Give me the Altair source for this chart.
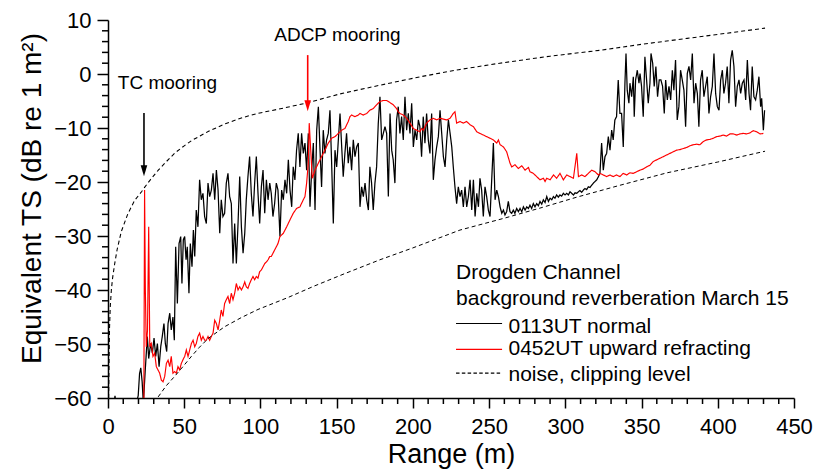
import altair as alt
import pandas as pd

# ---------------- data ----------------
black_x = [3.5, 4.6, 5.6, 18.5, 19.8, 20.7, 21.5, 22.4, 23.2, 24.4,
           25.8, 26.7, 28.0, 29.1, 30.2, 31.3, 32.4, 33.5, 34.6, 35.6, 36.7, 37.6, 38.5, 39.4, 40.5,
           41.5, 42.6, 43.5, 44.4, 45.5, 46.6, 47.7, 48.5, 49.4, 50.3, 51.2, 52.0, 53.1, 54.0, 55.1,
           56.0, 56.9, 57.9, 59.0, 60.1, 61.2, 62.3, 63.4, 64.5, 65.6, 66.7, 67.8, 68.9, 70.0, 71.1,
           72.2, 73.3, 74.3, 75.4, 76.5, 77.6, 78.7, 79.8, 80.9, 82.0, 83.1, 84.2, 85.3, 86.4, 87.5,
           88.6, 89.7, 90.7, 91.8, 92.9, 94.0, 95.1, 96.2, 97.3, 98.4, 99.5, 100.6, 101.7, 102.8,
           103.9, 105.0, 106.1, 107.1, 108.2, 109.3, 110.4, 111.5,
           112.8, 113.9, 115.0, 116.1, 117.2, 118.3, 119.4, 120.5, 121.5, 122.6, 123.7, 124.8, 125.9,
           127.0, 128.1, 129.2, 130.3, 131.4, 132.5, 133.6, 134.7, 135.8, 136.9, 138.0, 139.0, 140.1,
           141.2, 142.3, 143.4, 144.5, 145.6, 146.7, 147.8, 148.9, 150.0, 151.1, 152.2, 153.3, 154.3,
           155.4, 156.5, 157.6, 158.7, 159.8, 160.9, 162.0, 163.1, 164.2, 165.3, 166.4, 167.5, 168.6,
           169.7, 170.8, 171.8, 172.9, 174.0, 175.1, 176.2, 177.3, 178.4, 179.5, 180.6, 181.7, 182.8,
           183.9, 185.0, 186.1, 187.1, 188.2, 189.3, 190.4, 191.5, 192.6, 193.7, 194.8, 195.9, 197.0,
           198.1, 199.2, 200.3, 201.4, 202.5, 203.6, 204.6, 205.7, 206.8, 207.9, 209.0, 210.1, 211.2,
           212.3, 213.4, 214.5, 215.6, 216.7,
           217.8, 218.9, 220.0, 221.1, 222.2, 223.3, 224.4, 225.5, 226.5, 227.6, 228.7, 229.8, 230.9,
           232.0, 233.1, 234.2, 235.3, 236.4, 237.5, 238.6, 239.7, 240.8, 241.9, 243.0, 244.0, 245.1,
           246.2, 247.3, 248.4, 249.5, 250.6, 251.7, 252.8, 253.9, 255.0, 256.1, 257.2, 258.3, 259.4,
           260.4, 261.5, 262.6, 263.7, 264.8, 265.9, 266.9, 268.1, 269.2, 270.3, 271.4, 272.5, 273.6,
           274.7, 275.8, 276.8, 277.9, 279.0, 280.1, 281.2, 282.3, 283.4, 284.5, 285.6, 286.7, 287.8,
           288.9, 290.0, 291.1, 292.2, 293.2, 294.3, 295.4, 296.5, 297.6, 298.7, 299.8, 300.9, 302.0,
           303.1, 304.2, 305.3, 306.4, 307.5, 308.6, 309.6, 310.7, 311.8, 312.9, 314.0, 315.1, 316.2,
           317.3, 318.4, 319.5, 320.6, 321.7,
           322.7, 323.8, 324.9, 326.0, 327.1, 328.2, 329.3, 330.4, 331.4, 332.5, 333.6, 334.7, 335.8,
           336.9, 338.0, 339.1, 339.8, 340.6, 341.7, 342.4, 343.5, 344.6, 345.2, 346.1, 347.2, 348.3,
           349.0, 350.0, 351.1, 352.2, 353.3, 354.4, 355.5, 356.2, 357.3, 358.3, 359.4, 360.5, 361.6,
           362.7, 363.8, 364.9, 365.8, 366.9, 368.0, 369.1, 370.2, 371.2, 372.3, 373.4, 374.5, 375.6,
           376.7, 377.8, 378.9, 380.0, 381.1, 382.2, 383.3, 384.4, 385.5, 386.6, 387.6, 388.7, 389.8,
           390.9, 392.0, 393.1, 394.2, 395.3, 396.4, 397.5, 398.6, 399.7, 400.8, 401.9, 403.0, 404.0,
           405.1, 406.2, 407.3, 408.4, 409.5, 410.6, 411.7, 412.8, 413.9, 415.0, 416.1, 417.2, 418.3,
           419.4, 420.5, 421.5, 422.6, 423.7, 424.8, 425.9, 427.0, 428.1, 428.8, 429.9, 430.7]
black_y = [-62, -59.6, -62, -61, -59.6, -55.5, -54.4, -57.0, -61.0, -55.0,
           -48.6, -52.7, -49.9, -51.7, -48.9, -52.3, -49.9, -54.2, -50.5, -48.6, -46.2, -49.9, -51.4, -46.2, -44.3,
           -47.4, -45.0, -49.3, -32.0, -42.5, -31.4, -30.1, -38.8, -30.7, -30.1, -34.4, -32.0, -40.6, -31.4, -35.7,
           -28.9, -33.8, -25.2, -28.3, -19.6, -23.3, -22.1, -26.4, -27.7, -20.2, -22.7, -21.5, -18.4, -23.3, -17.8,
           -21.5, -29.5, -23.3, -26.4, -25.8, -20.2, -18.4, -22.7, -24.0, -35.1, -27.7, -35.1, -27.7, -19.0, -28.3,
           -33.2, -29.5, -23.3, -19.0, -15.3, -22.1, -26.4, -20.2, -15.3, -22.1, -27.7, -20.9, -17.8, -25.8,
           -19.6, -23.3, -20.2, -22.1, -26.4, -24.0, -20.2, -21.5,
           -30.1, -21.5, -23.3, -19.6, -22.1, -15.9, -21.5, -24.6, -17.2, -19.6, -14.1, -11.0, -17.2,
           -11.0, -14.7, -12.8, -17.8, -11.0, -24.6, -17.8, -12.8, -25.2, -10.4, -6.05, -13.5, -20.9,
           -10.4, -14.7, -12.2, -11.0, -6.7, -16.5, -27.7, -14.1, -17.2, -12.2, -7.3, -13.5, -19.0,
           -14.7, -11.0, -16.5, -13.5, -17.8, -12.2, -15.3, -13.5, -12.8, -24.6, -20.9, -22.7, -20.2,
           -23.3, -25.2, -17.2, -20.2, -25.2, -20.2, -17.2, -9.1, -4.2, -12.2, -11.0, -9.75, -11.0,
           -22.7, -7.3, -14.1, -15.9, -20.2, -8.5, -6.05, -11.0, -7.9, -12.2, -4.2, -10.4, -7.3,
           -11.0, -5.4, -13.5, -10.4, -12.2, -8.5, -9.75, -15.3, -7.9, -12.8, -7.3, -12.2, -14.7,
           -7.3, -19.6, -15.9, -13.5, -11.6,
           -6.7, -11.0, -15.3, -17.2, -12.2, -8.5, -11.0, -13.5, -17.2, -20.9, -24.0, -20.9, -22.7,
           -21.5, -24.6, -20.9, -24.6, -22.7, -19.6, -25.2, -19.6, -26.4, -22.1, -24.6, -19.3, -21.5,
           -26.4, -20.9, -22.7, -25.2, -26.4, -19.6, -12.8, -23.3, -21.5, -22.7, -24.6, -25.8, -25.2,
           -26.1, -25.5, -23.6, -25.5, -25.8, -25.2, -25.8, -24.9, -25.5, -24.9, -25.5, -24.6, -25.2,
           -24.6, -24.9, -24.3, -24.9, -24.0, -24.6, -24.0, -24.4, -23.6, -24.1, -23.3, -23.8, -22.7,
           -23.6, -23.0, -23.3, -22.7, -23.0, -22.4, -22.8, -22.4, -22.6, -22.1, -22.4, -22.1, -22.4,
           -21.8, -22.1, -22.4, -22.0, -22.1, -21.8, -21.6, -21.9, -21.5, -21.2, -21.4, -20.9, -21.0,
           -20.6, -20.2, -19.9, -19.6, -19.0,
           -18.4, -12.8, -17.8, -15.3, -14.7, -11.6, -14.1, -10.4, -12.2, -8.5, -7.9, -1.1, -7.3,
           -7.3, -13.5, -1.7, 3.8, -3.0, -5.4, -1.7, -4.2, -0.5, -7.9, -1.1, 0.7, -1.7,
           0.1, -2.3, -7.9, 3.2, -1.1, -5.4, -1.7, 3.8, 2.0, -2.3, 1.4, -4.2, -1.1,
           -1.1, -2.3, -7.3, -1.1, -4.8, -2.3, -4.8, 0.7, -3.0, 2.6, -8.5, -6.0, 0.7,
           -1.1, -3.0, -9.75, 0.1, 1.4, -1.1, 3.8, -5.4, -1.7, -3.6, -9.75, -1.1, 0.7,
           -4.2, -2.3, -0.5, -7.3, -4.2, -2.3, 3.8, -3.6, -6.05, -6.7, -1.1, 0.7, -3.6,
           -1.7, 1.4, -5.4, 2.6, 4.4, 1.4, -6.05, -2.3, -1.1, -3.6, -1.7, -1.1, -4.8,
           2.6, -3.6, -6.7, 1.4, -4.2, -4.8, -3.0, -0.5, -6.05, -4.5, -10.4, -6.7]

red_x = [23.5, 24.0, 24.5, 25.1, 25.9, 26.7, 27.4, 28.4,
         29.5, 30.6, 31.7, 32.8, 33.9, 35.0, 36.1, 37.2, 38.3, 39.4, 40.5, 41.5, 42.6, 43.7, 44.8,
         45.9, 47.0, 48.1, 49.2, 50.3, 51.4, 52.5, 53.6, 54.7, 55.8, 56.9, 57.9, 59.0, 60.1, 61.2,
         62.3, 63.4, 64.5, 65.6, 66.7, 67.8, 68.9, 70.0, 71.1, 72.2, 73.3, 74.3, 75.4, 76.5, 77.6,
         78.7, 79.8, 80.9, 82.0, 83.1, 84.2, 85.3, 86.4, 87.5, 88.6, 89.7, 90.7, 91.8, 92.9, 94.0,
         95.1, 96.2, 97.3, 98.4, 99.5, 100.6, 101.7, 102.8, 103.9, 105.0, 106.1, 107.1, 108.2,
         109.3, 110.4, 111.5,
         112.8, 115.0, 117.2, 119.4, 121.5, 123.7, 125.9, 128.1, 129.2, 130.3, 131.4, 132.0, 134.0,
         135.8, 138.0, 140.1, 142.3, 144.5, 146.7, 148.9, 151.1, 153.3, 155.4, 157.6, 158.7, 159.8,
         162.0, 164.2, 165.3, 167.5, 169.7, 171.8, 174.0, 176.2, 178.4, 180.6, 182.8, 185.0, 187.1,
         189.3, 190.4, 191.5, 193.7, 195.9, 198.1, 200.3, 202.5, 204.6, 205.7, 206.8, 209.0, 211.2,
         213.4, 215.6,
         217.8, 222.2, 224.4, 226.5, 227.6, 228.7, 230.9, 233.1, 235.3, 237.5, 239.7, 241.9, 244.0,
         246.2, 248.4, 250.6, 252.8, 255.0, 256.1, 257.2, 259.4, 261.5, 263.7, 264.8, 267.0, 269.2,
         271.4, 273.6, 275.8, 276.8, 279.0, 281.2, 283.4, 285.6, 286.7, 287.8, 290.0, 292.2, 294.3,
         296.5, 298.7, 300.9, 303.1, 305.3, 307.5, 308.6, 310.7, 312.9, 315.1, 317.3, 319.5, 321.7,
         322.7, 324.9, 327.1, 329.3, 331.4, 333.6, 335.8, 338.0, 340.2, 342.4, 344.6, 346.8, 349.0,
         351.1, 353.3, 355.5, 357.7, 359.9, 362.1, 364.3, 366.4, 368.6, 370.8, 373.0, 375.2, 377.4,
         379.6, 381.7, 383.9, 386.1, 388.3, 390.5, 392.7, 394.9, 397.1, 399.2, 401.4, 403.6, 405.8,
         408.0, 410.2, 412.4, 414.5, 416.7, 418.9, 421.1, 423.3, 425.5, 427.7, 429.9]
red_y = [-62, -21.5, -40, -50.5, -47.5, -28.3, -50.5, -49.9,
         -52.3, -51.7, -54.2, -54.8, -55.4, -56.7, -57.0, -56.0, -53.6, -53.0, -54.2, -52.3, -55.4, -55.1, -55.4,
         -54.2, -54.8, -53.6, -52.9, -52.3, -51.1, -52.3, -51.1, -49.9, -49.3, -50.5, -49.9, -48.6, -48.0, -49.3,
         -48.6, -49.3, -49.3, -48.6, -49.3, -48.6, -48.0, -45.6, -46.2, -47.4, -45.6, -43.7, -44.9, -42.5, -41.8,
         -41.2, -42.5, -40.6, -41.8, -40.6, -38.8, -40.0, -39.4, -40.0, -39.4, -38.5, -39.4, -39.7, -38.8, -38.1,
         -37.5, -38.1, -37.5, -37.8, -36.6, -36.3, -35.7, -35.1, -34.8, -34.4, -33.8, -33.8, -33.2,
         -32.6, -32.0, -31.4,
         -30.1, -29.5, -28.3, -27.0, -25.8, -24.9, -24.6, -23.3, -22.7, -20.2, -16.5, -9.1, -19.3,
         -17.8, -16.5, -15.3, -14.1, -12.8, -11.9, -11.6, -11.0, -10.4, -10.1, -8.8, -7.9, -7.6,
         -7.9, -7.6, -7.3, -7.6, -7.3, -6.7, -6.4, -5.7, -5.1, -4.9, -4.9, -5.3, -5.7,
         -6.4, -7.0, -7.3, -7.6, -8.2, -9.1, -10.1, -10.4, -10.7, -10.1, -10.4, -9.1, -8.5,
         -8.2, -8.5,
         -8.2, -8.5, -8.2, -7.3, -7.0, -9.1, -8.8, -9.1, -8.8, -9.4, -9.75, -10.7, -11.0,
         -11.3, -11.6, -11.9, -12.2, -12.8, -12.2, -13.1, -13.5, -14.4, -16.5, -17.2, -16.8, -17.5,
         -17.0, -17.8, -17.3, -18.1, -18.4, -19.0, -19.6, -19.3, -19.9, -19.3, -19.6, -18.7, -19.3,
         -18.4, -19.6, -18.7, -19.0, -19.3, -14.7, -19.0, -18.7, -19.0, -18.4, -17.8, -18.1, -18.7,
         -18.4, -18.7, -19.0, -18.7, -19.0, -18.7, -19.0, -18.4, -18.7, -18.3, -18.4, -18.1, -17.8,
         -17.6, -17.2, -16.9, -16.2, -15.9, -15.6, -15.3, -15.0, -14.7, -14.4, -14.1, -14.0, -13.8,
         -13.6, -13.3, -13.1, -13.0, -13.1, -12.5, -12.2, -12.1, -11.9, -11.6, -11.5, -11.3, -11.5,
         -11.1, -11.1, -11.3, -11.1, -11.0, -11.1, -10.9, -10.5, -10.7, -11.1, -11.0]

clip_x = [0.4, 0.7, 1.0, 1.5, 2.2, 3.0, 4.4, 6.0, 8.7, 13.0, 17.5, 22.0, 24.0, 28.0, 33.0, 38.0,
          44.0, 50.0, 55.0, 66.0, 77.0, 88.0, 98.0, 112.0, 130.0, 152.0, 178.0, 205.0, 230.0,
          257.0, 290.0, 323.0, 350.0, 380.0, 410.0, 431.0]
clip_y = [-60, -53, -47, -43, -40, -37.8, -35.1, -32.5, -29.2, -25.9, -23.4, -21.8, -21.0, -19.5,
          -17.8, -16.3, -14.6, -13.3, -12.3, -10.6, -9.2, -8.1, -7.3, -6.5, -5.4, -3.7, -2.1, -0.5,
          0.8, 2.0, 3.3, 4.4, 5.5, 6.6, 7.7, 8.5]

noise_x = [32.9, 38.0, 43.7, 49.4, 54.7, 60.0, 65.6, 76.5, 87.5, 98.4, 110.0, 118.0, 135.0, 155.0,
           178.4, 200.0, 230.9, 260.0, 285.0, 307.6, 335.9, 366.7, 400.0, 431.0]
noise_y = [-59.8, -57.8, -56.0, -54.1, -52.3, -50.6, -49.0, -46.8, -45.1, -43.6, -42.3, -41.4,
           -39.3, -37.0, -34.4, -32.2, -28.9, -26.7, -24.7, -22.8, -20.6, -18.3, -16.3, -14.3]

series_names = ["0113UT normal", "0452UT upward refracting", "noise, clipping level"]
legend_title = ["Drogden Channel", "background reverberation March 15"]

x_major = [0, 50, 100, 150, 200, 250, 300, 350, 400, 450]
y_major = [-60, -50, -40, -30, -20, -10, 0, 10]
x_minor = [v for v in range(0, 451, 10) if v % 50 != 0]
y_minor = [v for v in range(-60, 11, 2) if v % 10 != 0]

annot_text = ["TC mooring", "ADCP mooring"]
annot_x = [39.0, 150.5]
annot_y = [-1.7, 7.2]
arrow_x = [23.6, 131.0]
arrow_top = [-7.2, 3.5]
arrow_base = [-17.5, -5.5]
arrow_head = [-17.9, -5.9]
arrow_color = ["black", "red"]

# legend placement (in data units of the plot)
leg_text_x = 228.3
leg_label_x = 262.7
leg_line_x = [228.3, 258.5]
leg_title_y = [-38.0, -42.8]
leg_label_y = [-47.9, -52.0, -56.85]
leg_line_y = [-46.2, -51.0, -55.4]

# ---------------- build tables ----------------
df = pd.concat([
    pd.DataFrame({"range": black_x, "ts": black_y, "series": series_names[0], "curve": "black", "o": range(len(black_x))}),
    pd.DataFrame({"range": red_x, "ts": red_y, "series": series_names[1], "curve": "red", "o": range(len(red_x))}),
    pd.DataFrame({"range": clip_x, "ts": clip_y, "series": series_names[2], "curve": "clip", "o": range(len(clip_x))}),
    pd.DataFrame({"range": noise_x, "ts": noise_y, "series": series_names[2], "curve": "noise", "o": range(len(noise_x))}),
], ignore_index=True)

FONT = "Liberation Sans"
xscale = alt.Scale(domain=[0, 450], nice=False, zero=False)
yscale = alt.Scale(domain=[-60, 10], nice=False, zero=False)

x_axis = alt.Axis(values=x_major, title="Range (m)", tickSize=10, labelFontSize=22,
                  titleFontSize=27, titleFontWeight="normal", labelPadding=8, titleY=43,
                  grid=False, domainColor="black", tickColor="black", domainWidth=1.5,
                  tickWidth=1.5, labelColor="black", titleColor="black", labelFlush=False)
y_axis = alt.Axis(values=y_major, title="Equivalent TS (dB re 1 m²)", tickSize=11,
                  labelFontSize=22, titleFontSize=28, titleFontWeight="normal", labelPadding=6,
                  titleX=-90, titleY=178, titleBaseline="top", titleAngle=270, titleAlign="center",
                  grid=False, domainColor="black", tickColor="black", domainWidth=1.5,
                  tickWidth=1.5, labelColor="black", titleColor="black", labelFlush=False)

X = lambda f: alt.X(f, scale=xscale, axis=x_axis)
Y = lambda f: alt.Y(f, scale=yscale, axis=y_axis)

lines = alt.Chart(df).mark_line(clip=True).encode(
    x=X("range:Q"),
    y=Y("ts:Q"),
    color=alt.Color("series:N", scale=alt.Scale(domain=series_names, range=["#000000", "#ff0000", "#000000"]), legend=None),
    strokeDash=alt.StrokeDash("series:N", scale=alt.Scale(domain=series_names, range=[[1, 0], [1, 0], [4, 3]]), legend=None),
    strokeWidth=alt.StrokeWidth("curve:N", scale=alt.Scale(domain=["black", "red", "clip", "noise"], range=[1.25, 1.0, 1.0, 1.5]), legend=None),
    detail="curve:N",
    order="o:Q",
)

ymin_df = pd.DataFrame({"range": [0] * len(y_minor), "ts": y_minor})
xmin_df = pd.DataFrame({"range": x_minor, "ts": [-60] * len(x_minor)})
y_minor_ticks = alt.Chart(ymin_df).mark_rule(color="black", strokeWidth=1.5).encode(
    y=Y("ts:Q"), x=alt.value(-6), x2=alt.value(0))
x_minor_ticks = alt.Chart(xmin_df).mark_rule(color="black", strokeWidth=1.5).encode(
    x=X("range:Q"), y=alt.value(378), y2=alt.value(384))

ann_df = pd.DataFrame({"t": annot_text, "range": annot_x, "ts": annot_y})
ann = alt.Chart(ann_df).mark_text(fontSize=19, color="black", baseline="middle", align="center").encode(
    x=X("range:Q"), y=Y("ts:Q"), text="t:N")

arr_df = pd.DataFrame({"range": arrow_x, "ts": arrow_top, "ts2": arrow_base, "yh": arrow_head, "c": arrow_color})
arr_lines = alt.Chart(arr_df).mark_rule(strokeWidth=1.6).encode(
    x=X("range:Q"), y=Y("ts:Q"), y2="ts2:Q", color=alt.Color("c:N", scale=None))
arr_heads = alt.Chart(arr_df).mark_point(shape="M-0.6,-1L0,1L0.6,-1Z", size=121, filled=True, opacity=1).encode(
    x=X("range:Q"), y=Y("yh:Q"), color=alt.Color("c:N", scale=None))

# manual legend
leg_txt_df = pd.DataFrame({
    "t": legend_title + series_names,
    "range": [leg_text_x, leg_text_x] + [leg_label_x] * 3,
    "ts": leg_title_y + leg_label_y,
})
leg_txt = alt.Chart(leg_txt_df).mark_text(fontSize=21, color="black", baseline="alphabetic", align="left").encode(
    x=X("range:Q"), y=Y("ts:Q"), text="t:N")
leg_solid_df = pd.DataFrame({"range": [leg_line_x[0]] * 2, "range2": [leg_line_x[1]] * 2,
                             "ts": leg_line_y[:2], "c": ["#000000", "#ff0000"]})
leg_solid = alt.Chart(leg_solid_df).mark_rule(strokeWidth=1.2).encode(
    x=X("range:Q"), x2="range2:Q", y=Y("ts:Q"), color=alt.Color("c:N", scale=None))
leg_dash_df = pd.DataFrame({"range": [leg_line_x[0]], "range2": [leg_line_x[1]], "ts": [leg_line_y[2]]})
leg_dash = alt.Chart(leg_dash_df).mark_rule(strokeWidth=1.1, color="black", strokeDash=[3.5, 2.3]).encode(
    x=X("range:Q"), x2="range2:Q", y=Y("ts:Q"))

chart = alt.layer(lines, y_minor_ticks, x_minor_ticks, arr_lines, arr_heads, ann,
                  leg_txt, leg_solid, leg_dash).properties(
    width=686, height=378,
    autosize=alt.AutoSizeParams(type="none"),
    padding={"left": 108, "top": 20, "right": 20, "bottom": 74},
).configure(font=FONT).configure_view(stroke=None)

chart.save("out.html", embed_options={"renderer": "svg", "actions": False})
